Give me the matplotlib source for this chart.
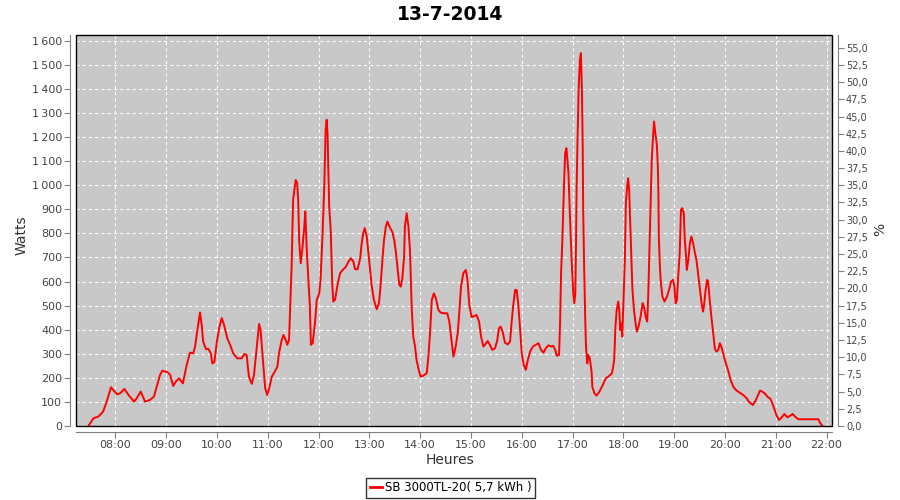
import matplotlib
matplotlib.use("Agg")
import matplotlib.pyplot as plt
import matplotlib.ticker as ticker
from matplotlib.patches import Rectangle
from matplotlib.lines import Line2D

# ------------------------------------------------------------
# Données
# ------------------------------------------------------------
titre = "13-7-2014"
serie = "SB 3000TL-20( 5,7 kWh )"

heures = [
    7.47, 7.57, 7.665, 7.76, 7.83, 7.915, 8.03, 8.09, 8.18, 8.26, 8.37, 8.42,
    8.50, 8.585, 8.68, 8.76, 8.815, 8.88, 8.925, 9.03, 9.08, 9.14, 9.19, 9.25,
    9.33, 9.405, 9.47, 9.535, 9.57, 9.615, 9.667, 9.70, 9.73, 9.785, 9.83, 9.88,
    9.91, 9.95, 9.995, 10.05, 10.095, 10.14, 10.205, 10.26, 10.32, 10.40, 10.49,
    10.54, 10.585, 10.63, 10.685, 10.73, 10.78, 10.83, 10.86, 10.90, 10.95, 10.99,
    11.03, 11.08, 11.14, 11.19, 11.22, 11.275, 11.31, 11.355, 11.385, 11.42, 11.44,
    11.47, 11.50, 11.55, 11.58, 11.60, 11.62, 11.65, 11.68, 11.72, 11.74, 11.77,
    11.80, 11.83, 11.85, 11.885, 11.93, 11.965, 12.015, 12.04, 12.08, 12.115,
    12.14, 12.16, 12.18, 12.19, 12.21, 12.24, 12.27, 12.29, 12.325, 12.38, 12.425,
    12.49, 12.535, 12.59, 12.64, 12.685, 12.72, 12.77, 12.82, 12.85, 12.88, 12.91,
    12.95, 12.99, 13.045, 13.09, 13.145, 13.19, 13.22, 13.255, 13.29, 13.325,
    13.355, 13.41, 13.45, 13.49, 13.525, 13.56, 13.59, 13.62, 13.65, 13.685, 13.70,
    13.735, 13.77, 13.80, 13.835, 13.865, 13.90, 13.93, 13.98, 14.01, 14.06, 14.13,
    14.16, 14.195, 14.23, 14.27, 14.31, 14.36, 14.405, 14.47, 14.535, 14.575, 14.61,
    14.655, 14.70, 14.74, 14.77, 14.805, 14.85, 14.90, 14.93, 14.97, 15.015, 15.065,
    15.11, 15.16, 15.20, 15.245, 15.29, 15.33, 15.375, 15.42, 15.475, 15.52, 15.55,
    15.585, 15.625, 15.67, 15.725, 15.77, 15.80, 15.83, 15.87, 15.90, 15.93, 15.97,
    16.00, 16.04, 16.08, 16.12, 16.165, 16.22, 16.275, 16.33, 16.38, 16.43, 16.475,
    16.525, 16.58, 16.62, 16.66, 16.69, 16.735, 16.755, 16.775, 16.80, 16.82, 16.835,
    16.855, 16.88, 16.90, 16.92, 16.95, 16.985, 17.015, 17.035, 17.055, 17.07, 17.08,
    17.10, 17.12, 17.145, 17.165, 17.185, 17.20, 17.21, 17.23, 17.25, 17.265, 17.29,
    17.31, 17.34, 17.375, 17.39, 17.43, 17.475, 17.53, 17.595, 17.655, 17.72, 17.775,
    17.80, 17.82, 17.845, 17.87, 17.90, 17.92, 17.94, 17.96, 17.98, 18.00, 18.03,
    18.05, 18.075, 18.095, 18.115, 18.14, 18.16, 18.18, 18.21, 18.24, 18.265, 18.30,
    18.34, 18.38, 18.405, 18.44, 18.47, 18.49, 18.51, 18.54, 18.56, 18.585, 18.605,
    18.63, 18.66, 18.68, 18.69, 18.70, 18.72, 18.74, 18.77, 18.81, 18.855, 18.90,
    18.94, 18.98, 19.005, 19.03, 19.055, 19.08, 19.11, 19.135, 19.16, 19.19, 19.21,
    19.235, 19.25, 19.28, 19.31, 19.34, 19.375, 19.41, 19.44, 19.47, 19.51, 19.54,
    19.57, 19.59, 19.62, 19.65, 19.67, 19.70, 19.74, 19.77, 19.80, 19.83, 19.87,
    19.90, 19.93, 19.965, 20.00, 20.04, 20.08, 20.11, 20.17, 20.23, 20.36, 20.43,
    20.47, 20.55, 20.61, 20.69, 20.72, 20.79, 20.85, 20.89, 20.92, 20.97, 21.02,
    21.065, 21.12, 21.17, 21.23, 21.28, 21.335, 21.38, 21.445, 21.58, 21.71, 21.84,
    21.87, 21.92,
]

watts = [
    0, 32, 39, 60, 101, 161, 132, 135, 154, 129, 101, 115,
    143, 101, 108, 122, 163, 212, 230, 223, 212, 166, 184, 198,
    177, 253, 305, 302, 330, 399, 471, 420, 350, 319, 321, 302,
    260, 265, 344, 413, 448, 420, 364, 337, 302, 281, 281,
    299, 295, 205, 175, 212, 316, 424, 399, 288, 157, 129,
    157, 205, 226, 246, 300, 357, 378, 357, 337, 357, 482,
    662, 939, 1022, 1009, 939, 766, 676, 731, 828, 891, 724,
    607, 496, 337, 344, 427, 524, 551, 607, 801, 1009,
    1230, 1272, 1202, 1092, 911, 815, 593, 517, 524, 593, 635,
    651, 660, 683, 697, 683, 651, 651, 697, 759, 801, 822,
    787, 704, 586, 524, 485, 510, 579, 683, 773, 828,
    849, 822, 808, 773, 718, 648, 586, 579, 614, 704, 828,
    884, 828, 731, 489, 371, 330, 274, 226, 205, 209, 219,
    281, 385, 524, 551, 531, 482, 471, 468, 468, 434, 371,
    288, 330, 385, 468, 579, 635, 648, 610, 500, 452, 457,
    461, 434, 371, 330, 341, 353, 337, 316, 323, 357, 406,
    413, 392, 346, 339, 350, 427, 496, 565, 565, 510, 399,
    302, 253, 233, 274, 309, 330, 337, 344, 316, 305, 323,
    335, 330, 333, 316, 292, 295, 427, 635, 773, 911, 1015,
    1133, 1154, 1106, 1050, 870, 676, 551, 510, 551, 773, 981,
    1202, 1396, 1521, 1549, 1396, 1175, 898, 648, 448, 330, 260,
    295, 281, 226, 163, 136, 126, 143, 170, 198, 208, 219,
    246, 274, 413, 482, 517, 482, 399, 427, 371, 496, 690,
    925, 995, 1029, 981, 815, 690, 565, 482, 427, 392, 413,
    454, 510, 496, 454, 434, 537, 704, 953, 1106, 1202, 1265,
    1216, 1168, 1078, 974, 780, 662, 593, 537, 517, 535, 565,
    600, 607, 579, 510, 524, 621, 718, 898, 905, 884, 773,
    704, 648, 690, 759, 787, 759, 718, 690, 635, 558, 510,
    475, 503, 565, 607, 600, 524, 441, 385, 323, 309, 316,
    344, 330, 302, 274, 246, 219, 191, 161, 147, 129, 115,
    101, 87, 108, 147, 145, 134, 119, 115, 101, 73, 42,
    25, 36, 50, 36, 42, 50, 39, 28, 28, 28, 28,
    14, 0,
]

heures_ticks = list(range(8, 23))
watts_ticks = list(range(0, 1700, 100))
pct_ticks = [i * 2.5 for i in range(23)]

# ------------------------------------------------------------
# Figure
# ------------------------------------------------------------
plt.rcParams['font.family'] = 'DejaVu Sans'
GRIS_AXE = '#808080'

fig = plt.figure(figsize=(9, 5), dpi=100)
ax = fig.add_axes([76 / 900, 74 / 500, 756 / 900, 391 / 500])
ax.set_facecolor('#C8C8C8')

ax.plot(heures, watts, color='#FF0000', linewidth=1.4, zorder=3)
ax.set_xlim(7.226, 22.108)
ax.set_ylim(0, 1624)

ax.set_xticks(heures_ticks)
ax.set_xticklabels([f"{h:02d}:00" for h in heures_ticks])
ax.set_yticks(watts_ticks)
ax.yaxis.set_major_formatter(ticker.FuncFormatter(lambda v, p: f"{int(v):,}".replace(',', '\u202f')))
ax.grid(True, color='white', linestyle=(0, (3, 3)), linewidth=0.75, zorder=1)
ax.set_axisbelow(True)

for s in ('top', 'right'):
    ax.spines[s].set_visible(False)
for s in ('left', 'bottom'):
    ax.spines[s].set_position(('outward', 4))
    ax.spines[s].set_color(GRIS_AXE)
ax.tick_params(axis='both', colors=GRIS_AXE, labelcolor='#444444', labelsize=8,
               length=4, pad=2)

# axe droit en %
ax2 = ax.twinx()
ax2.set_ylim(0, 56.85)
ax2.set_yticks(pct_ticks)
ax2.yaxis.set_major_formatter(ticker.FuncFormatter(lambda v, p: f"{v:.1f}".replace('.', ',')))
for s in ('top', 'left', 'bottom'):
    ax2.spines[s].set_visible(False)
ax2.spines['right'].set_position(('outward', 4))
ax2.spines['right'].set_color(GRIS_AXE)
ax2.tick_params(axis='y', colors=GRIS_AXE, labelcolor='#444444', labelsize=7,
                length=4, pad=2)

# contour noir de la zone de tracé
ax.add_patch(Rectangle((0, 0), 1, 1, transform=ax.transAxes, fill=False,
                       edgecolor='black', linewidth=1, clip_on=False, zorder=5))

# textes
fig.text(0.5, 1 - 14 / 500, titre, ha='center', va='center', fontsize=13.5, weight='bold')
fig.text(0.5, 1 - 460 / 500, "Heures", ha='center', va='center', fontsize=10, color='#333333')
fig.text(22 / 900, 1 - 235 / 500, "Watts", ha='center', va='center', rotation=90,
         fontsize=10, color='#333333')
fig.text(880 / 900, 1 - 229 / 500, "%", ha='center', va='center', rotation=90,
         fontsize=10, color='#333333')

# légende
poignee = Line2D([], [], color='#FF0000', linewidth=2)
leg = fig.legend([poignee], [serie], loc='lower center', bbox_to_anchor=(0.501, 0.004),
                 fontsize=8.5, frameon=True, fancybox=False, handlelength=1.0,
                 handletextpad=0.3, borderpad=0.3, borderaxespad=0)
leg.get_frame().set_edgecolor('black')
leg.get_frame().set_linewidth(1)

fig.savefig("out.png", dpi=100)
